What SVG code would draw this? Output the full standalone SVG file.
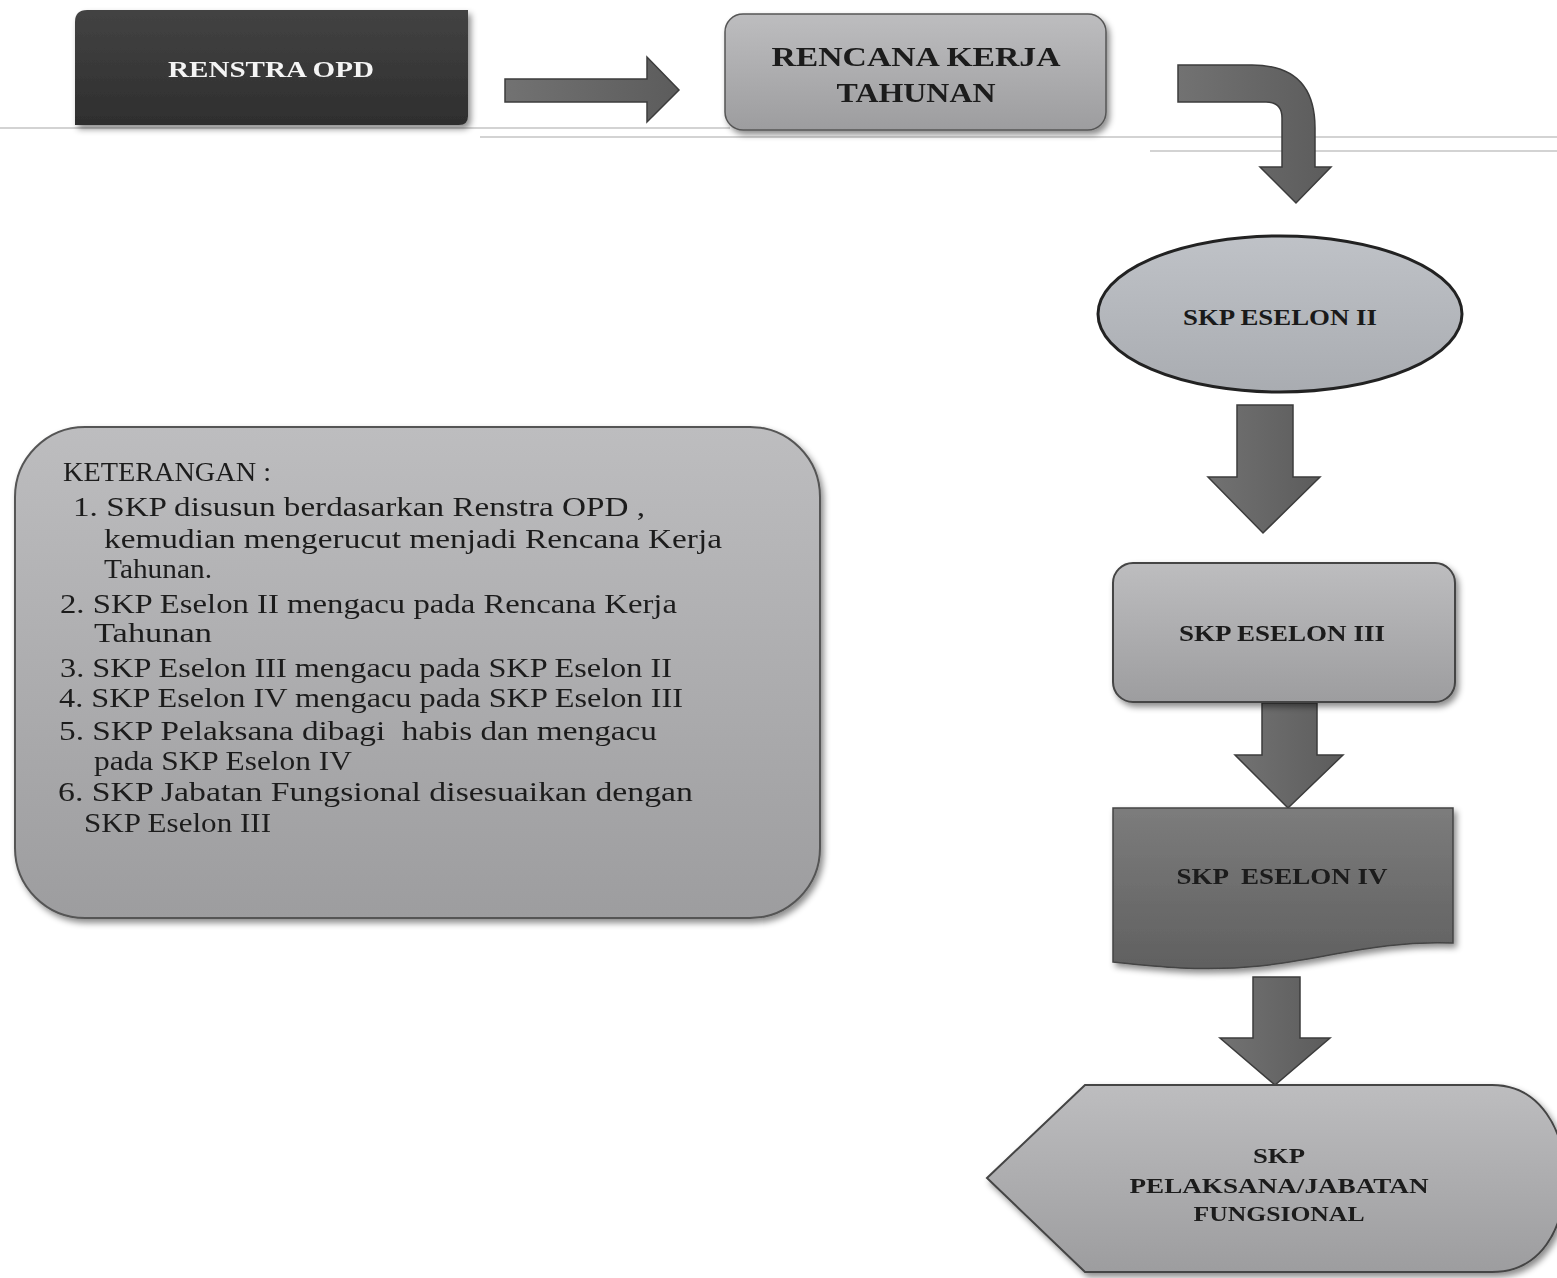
<svg xmlns="http://www.w3.org/2000/svg" width="1557" height="1278" viewBox="0 0 1557 1278">
<defs>
<filter id="sh" x="-10%" y="-10%" width="130%" height="130%">
<feDropShadow dx="3" dy="4" stdDeviation="3" flood-color="#000" flood-opacity="0.45"/>
</filter>
<linearGradient id="gDark" x1="0" y1="0" x2="0" y2="1"><stop offset="0" stop-color="#434343"/><stop offset="1" stop-color="#2e2e2e"/></linearGradient>
<linearGradient id="gLight" x1="0" y1="0" x2="0" y2="1"><stop offset="0" stop-color="#bdbdbf"/><stop offset="1" stop-color="#9d9d9f"/></linearGradient>
<linearGradient id="gBlue" x1="0" y1="0" x2="0" y2="1"><stop offset="0" stop-color="#bfc2c7"/><stop offset="1" stop-color="#a9acb1"/></linearGradient>
<linearGradient id="gMid" x1="0" y1="0" x2="0" y2="1"><stop offset="0" stop-color="#7c7c7c"/><stop offset="1" stop-color="#606060"/></linearGradient>
<linearGradient id="gArrow" x1="0" y1="0" x2="1" y2="0"><stop offset="0" stop-color="#727272"/><stop offset="1" stop-color="#5c5c5c"/></linearGradient>
</defs>
<style>
.lbl{font-family:"Liberation Serif","DejaVu Serif",serif;font-weight:bold;text-anchor:middle;fill:#1a1a1a}
.note{font-family:"Liberation Serif","DejaVu Serif",serif;font-size:27px;fill:#1e1e1e}
.arrow{fill:url(#gArrow);stroke:#3c3c3c;stroke-width:1.5}
.scan{stroke:#c4c4c4;stroke-width:1.5}
</style>
<rect width="1557" height="1278" fill="#fff"/>
<g id="scanlines">
<line class="scan" x1="0" y1="128" x2="730" y2="128"/>
<line class="scan" x1="480" y1="137" x2="1557" y2="137"/>
<line class="scan" x1="1150" y1="151" x2="1557" y2="151"/>
</g>
<g id="connectors">
<path class="arrow" d="M505,79 L647,79 L647,57 L679,90 L647,122 L647,102 L505,102 Z"/>
<path class="arrow" d="M1178,65 L1252,65 Q1315,65 1315,128 L1315,167 L1331,167 L1296,203 L1260,167 L1282,167 L1282,118 Q1282,102 1266,102 L1178,102 Z"/>
<path class="arrow" d="M1237,405 L1293,405 L1293,477 L1320,477 L1263,533 L1208,477 L1237,477 Z"/>
<path class="arrow" d="M1262,703 L1317,703 L1317,755 L1343,755 L1288,808 L1235,755 L1262,755 Z"/>
<path class="arrow" d="M1253,977 L1300,977 L1300,1038 L1330,1038 L1275,1085 L1220,1038 L1253,1038 Z"/>
</g>
<g id="renstra" filter="url(#sh)">
<path d="M75,22 Q75,10 87,10 L468,10 L468,116 Q468,125 459,125 L75,125 Z" fill="url(#gDark)"/>
<text class="lbl" x="271" y="77" font-size="24" style="fill:#f4f4f4" textLength="206" lengthAdjust="spacingAndGlyphs">RENSTRA OPD</text>
</g>
<g id="rencana" filter="url(#sh)">
<rect x="725" y="14" width="381" height="116" rx="18" fill="url(#gLight)" stroke="#555" stroke-width="1.5"/>
<text class="lbl" x="916" y="66" font-size="27" textLength="289" lengthAdjust="spacingAndGlyphs">RENCANA KERJA</text>
<text class="lbl" x="916" y="102" font-size="27" textLength="159" lengthAdjust="spacingAndGlyphs">TAHUNAN</text>
</g>
<g id="eselon2">
<ellipse cx="1280" cy="314" rx="182" ry="78" fill="url(#gBlue)" stroke="#222" stroke-width="3"/>
<text class="lbl" x="1280" y="325" font-size="23" textLength="194" lengthAdjust="spacingAndGlyphs">SKP ESELON II</text>
</g>
<g id="eselon3" filter="url(#sh)">
<rect x="1113" y="563" width="342" height="139" rx="20" fill="url(#gLight)" stroke="#444" stroke-width="2"/>
<text class="lbl" x="1282" y="641" font-size="23" textLength="206" lengthAdjust="spacingAndGlyphs">SKP ESELON III</text>
</g>
<g id="eselon4" filter="url(#sh)">
<path d="M1113,808 L1453,808 L1453,943 C1380,940 1330,958 1260,966 C1200,972 1150,966 1113,962 Z" fill="url(#gMid)" stroke="#444" stroke-width="1.5"/>
<text class="lbl" x="1282" y="884" font-size="23" textLength="211" lengthAdjust="spacingAndGlyphs" xml:space="preserve">SKP  ESELON IV</text>
</g>
<g id="pelaksana" filter="url(#sh)">
<path d="M987,1178 L1085,1085 L1492,1085 C1540,1085 1565,1130 1565,1178 C1565,1230 1540,1272 1492,1272 L1085,1272 Z" fill="url(#gLight)" stroke="#444" stroke-width="2"/>
<text class="lbl" x="1279" y="1163" font-size="22" textLength="52" lengthAdjust="spacingAndGlyphs">SKP</text>
<text class="lbl" x="1279" y="1193" font-size="22" textLength="299" lengthAdjust="spacingAndGlyphs">PELAKSANA/JABATAN</text>
<text class="lbl" x="1279" y="1221" font-size="22" textLength="171" lengthAdjust="spacingAndGlyphs">FUNGSIONAL</text>
</g>
<g id="keterangan" filter="url(#sh)">
<rect x="15" y="427" width="805" height="491" rx="70" fill="url(#gLight)" stroke="#555" stroke-width="2"/>
<text class="note" x="63" y="481" textLength="208" lengthAdjust="spacingAndGlyphs">KETERANGAN :</text>
<text class="note" x="73" y="516" textLength="572" lengthAdjust="spacingAndGlyphs">1. SKP disusun berdasarkan Renstra OPD ,</text>
<text class="note" x="104" y="548" textLength="618" lengthAdjust="spacingAndGlyphs">kemudian mengerucut menjadi Rencana Kerja</text>
<text class="note" x="104" y="578" textLength="108" lengthAdjust="spacingAndGlyphs">Tahunan.</text>
<text class="note" x="60" y="613" textLength="617" lengthAdjust="spacingAndGlyphs">2. SKP Eselon II mengacu pada Rencana Kerja</text>
<text class="note" x="94" y="642" textLength="118" lengthAdjust="spacingAndGlyphs">Tahunan</text>
<text class="note" x="60" y="677" textLength="612" lengthAdjust="spacingAndGlyphs">3. SKP Eselon III mengacu pada SKP Eselon II</text>
<text class="note" x="59" y="707" textLength="624" lengthAdjust="spacingAndGlyphs">4. SKP Eselon IV mengacu pada SKP Eselon III</text>
<text class="note" x="59" y="740" textLength="598" lengthAdjust="spacingAndGlyphs" xml:space="preserve">5. SKP Pelaksana dibagi  habis dan mengacu</text>
<text class="note" x="94" y="770" textLength="258" lengthAdjust="spacingAndGlyphs">pada SKP Eselon IV</text>
<text class="note" x="58" y="801" textLength="635" lengthAdjust="spacingAndGlyphs">6. SKP Jabatan Fungsional disesuaikan dengan</text>
<text class="note" x="84" y="832" textLength="187" lengthAdjust="spacingAndGlyphs">SKP Eselon III</text>
</g>
</svg>
